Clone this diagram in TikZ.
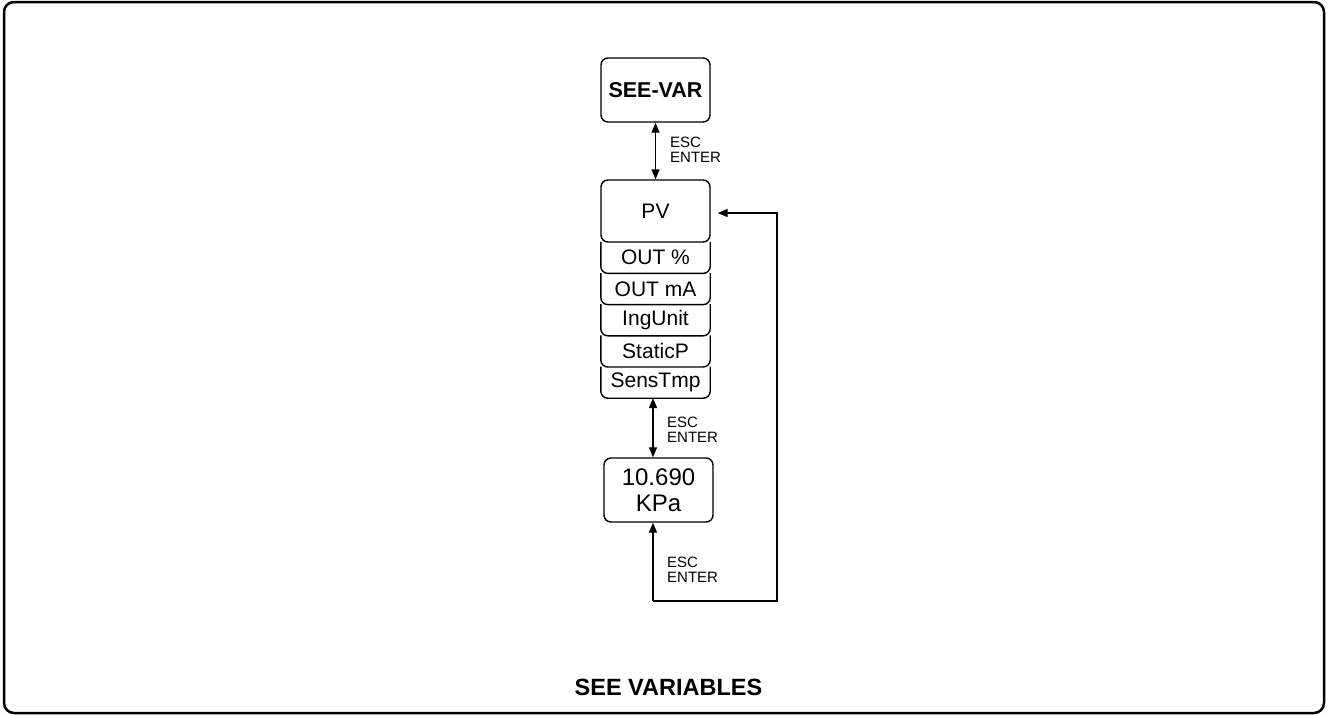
\documentclass[tikz,border=0pt]{standalone}
\usepackage{fontspec}
\setmainfont{Liberation Sans}
\usetikzlibrary{arrows.meta}
\begin{document}
\begin{tikzpicture}[x=1pt,y=-1pt,
  box/.style={draw, line width=1.4pt, rounded corners=7pt, minimum width=109pt, inner sep=0pt, align=center},
  tab/.style={minimum width=109pt, minimum height=31.2pt, inner sep=0pt, font=\fontsize{21}{23}\selectfont},
  conn/.style={line width=1.4pt},
  tip/.style={-{Triangle[length=10pt,width=8pt]}},
  dtip/.style={{Triangle[length=10pt,width=8pt]}-{Triangle[length=10pt,width=8pt]}},
  lbl/.style={anchor=west, align=left, inner sep=0pt, font=\fontsize{15}{14.5}\selectfont}
]
\useasboundingbox (0,0) rectangle (1334,715);
\draw[line width=2.5pt, rounded corners=10pt] (4,2) rectangle (1324,713);

\node[box, minimum height=64pt, font=\bfseries\fontsize{21.5}{23}\selectfont] (seevar) at (655.5,90) {SEE-VAR};
\node[box, minimum height=62pt, font=\fontsize{21}{23}\selectfont] (pv) at (655.5,211) {PV};

\node[tab] (t1) at (655.5,257.6) {OUT \%};
\node[tab] (t2) at (655.5,288.8) {OUT mA};
\node[tab] (t3) at (655.5,320.0) {IngUnit};
\node[tab] (t4) at (655.5,351.2) {StaticP};
\node[tab] (t5) at (655.5,382.4) {SensTmp};
\foreach \t in {t1,t2,t3,t4,t5}{
  \draw[line width=1.4pt, rounded corners=7pt] (\t.north west) -- (\t.south west) -- (\t.south east) -- (\t.north east);
}

\node[box, minimum height=64pt, font=\fontsize{24}{26}\selectfont] (kpa) at (658.5,490) {10.690\\KPa};

\draw[conn, dtip] (seevar.south) -- (pv.north);
\coordinate (a2) at (653,398);
\draw[conn, dtip] (a2) -- (kpa.north -| a2);

\coordinate (bl) at (653,601);
\coordinate (br) at (777,601);
\coordinate (tr) at (777,213);
\draw[conn, tip] (bl) -- (kpa.south -| bl);
\draw[conn, tip, shorten >=7pt] (bl) -- (br) -- (tr) -- (tr -| pv.east);

\node[lbl] (l1) at (670,150) {ESC\\ENTER};
\node[lbl] (l2) at (667,430) {ESC\\ENTER};
\node[lbl] (l3) at (667,570) {ESC\\ENTER};

\node[font=\bfseries\fontsize{23.5}{25}\selectfont] (title) at (668.5,687) {SEE VARIABLES};
\end{tikzpicture}
\end{document}
